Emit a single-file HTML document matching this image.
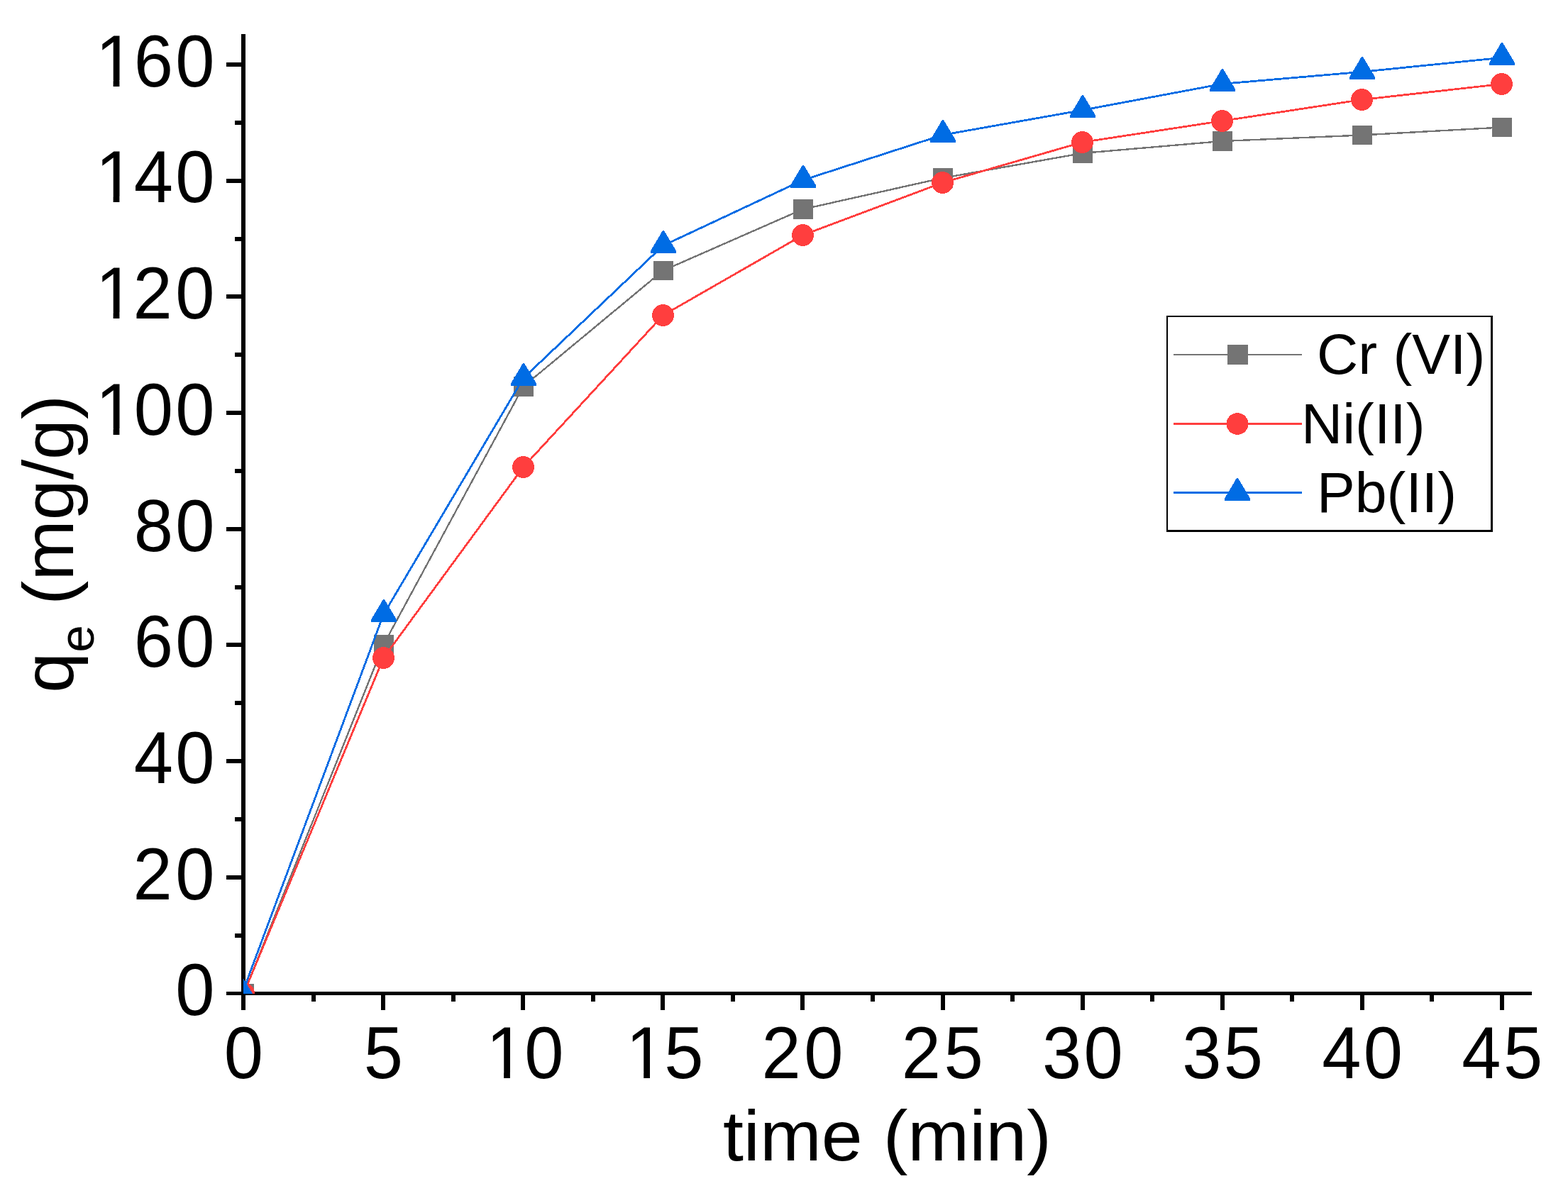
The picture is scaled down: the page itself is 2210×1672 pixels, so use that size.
<!DOCTYPE html>
<html lang="en"><head><meta charset="utf-8"><title>qe vs time</title>
<style>html,body{margin:0;padding:0;background:#fff;}body{width:2210px;height:1672px;overflow:hidden;}svg{display:block;}text{font-family:"Liberation Sans", sans-serif;fill:#000;}</style>
</head><body>
<svg width="2210" height="1672" viewBox="0 0 2210 1672">
<rect x="0" y="0" width="2210" height="1672" fill="#fff"/>
<defs><clipPath id="plot"><rect x="343" y="40" width="1830" height="1361"/></clipPath></defs>
<g fill="#000" shape-rendering="crispEdges">
<rect x="340" y="48" width="6" height="1376"/>
<rect x="319" y="1398" width="1840" height="5"/>
<rect x="331" y="1315.7" width="10" height="6"/>
<rect x="319" y="1233.8" width="22" height="6"/>
<rect x="331" y="1152.0" width="10" height="6"/>
<rect x="319" y="1070.1" width="22" height="6"/>
<rect x="331" y="988.2" width="10" height="6"/>
<rect x="319" y="906.4" width="22" height="6"/>
<rect x="331" y="824.6" width="10" height="6"/>
<rect x="319" y="742.7" width="22" height="6"/>
<rect x="331" y="660.9" width="10" height="6"/>
<rect x="319" y="579.0" width="22" height="6"/>
<rect x="331" y="497.2" width="10" height="6"/>
<rect x="319" y="415.3" width="22" height="6"/>
<rect x="331" y="333.5" width="10" height="6"/>
<rect x="319" y="251.6" width="22" height="6"/>
<rect x="331" y="169.8" width="10" height="6"/>
<rect x="319" y="87.9" width="22" height="6"/>
<rect x="438.6" y="1400" width="6" height="12"/>
<rect x="537.1" y="1400" width="6" height="24"/>
<rect x="635.7" y="1400" width="6" height="12"/>
<rect x="734.2" y="1400" width="6" height="24"/>
<rect x="832.8" y="1400" width="6" height="12"/>
<rect x="931.3" y="1400" width="6" height="24"/>
<rect x="1029.9" y="1400" width="6" height="12"/>
<rect x="1128.4" y="1400" width="6" height="24"/>
<rect x="1227.0" y="1400" width="6" height="12"/>
<rect x="1325.6" y="1400" width="6" height="24"/>
<rect x="1424.1" y="1400" width="6" height="12"/>
<rect x="1522.7" y="1400" width="6" height="24"/>
<rect x="1621.2" y="1400" width="6" height="12"/>
<rect x="1719.8" y="1400" width="6" height="24"/>
<rect x="1818.3" y="1400" width="6" height="12"/>
<rect x="1916.9" y="1400" width="6" height="24"/>
<rect x="2015.4" y="1400" width="6" height="12"/>
<rect x="2114.0" y="1400" width="6" height="24"/>
</g>
<g font-size="104.6" transform="scale(0.95,1)">
<text x="260.3" y="1431.4">0</text>
<text x="197.4 260.3" y="1267.7">20</text>
<text x="198.7 260.3" y="1104.0">40</text>
<text x="198.7 260.3" y="940.3">60</text>
<text x="198.7 260.3" y="776.6">80</text>
<text x="141.8 198.7 260.3" y="612.9">100</text>
<text x="141.8 197.4 260.3" y="449.2">120</text>
<text x="141.8 198.7 260.3" y="285.5">140</text>
<text x="141.8 198.7 260.3" y="121.8">160</text>
<text x="332.3" y="1520">0</text>
<text x="539.8" y="1520">5</text>
<text x="721.2 778.1" y="1520">10</text>
<text x="928.7 985.6" y="1520">15</text>
<text x="1130.1 1193.0" y="1520">20</text>
<text x="1337.6 1400.5" y="1520">25</text>
<text x="1546.4 1608.0" y="1520">30</text>
<text x="1753.9 1815.5" y="1520">35</text>
<text x="1961.3 2023.0" y="1520">40</text>
<text x="2168.8 2230.5" y="1520">45</text>
</g>
<g fill="#fff"><rect x="141.2" y="604.3" width="18.4" height="9.8"/><rect x="168.4" y="604.3" width="17.6" height="9.8"/><rect x="141.2" y="440.6" width="18.4" height="9.8"/><rect x="168.4" y="440.6" width="17.6" height="9.8"/><rect x="141.2" y="276.9" width="18.4" height="9.8"/><rect x="168.4" y="276.9" width="17.6" height="9.8"/><rect x="141.2" y="113.2" width="18.4" height="9.8"/><rect x="168.4" y="113.2" width="17.6" height="9.8"/><rect x="691.7" y="1511.4" width="18.4" height="9.8"/><rect x="718.9" y="1511.4" width="17.6" height="9.8"/><rect x="888.8" y="1511.4" width="18.4" height="9.8"/><rect x="916.0" y="1511.4" width="17.6" height="9.8"/></g>
<text transform="translate(1250.4,1636) scale(1.042,1)" font-size="100" text-anchor="middle">time (min)</text>
<text transform="translate(103,766.8) rotate(-90) scale(1.024,1)" font-size="100" text-anchor="middle">q<tspan font-size="68" dy="29">e</tspan><tspan dy="-29"> (mg/g)</tspan></text>
<g clip-path="url(#plot)" shape-rendering="crispEdges">
<g fill="#747474" stroke="none">
<polyline points="343.5,1401 540.5,909 737.5,545 934.5,381.5 1131.5,295 1328.5,251 1525.5,216 1722.5,199 1919.5,190.5 2116.5,179.5" fill="none" stroke="#747474" stroke-width="2.4" stroke-linejoin="round"/>
<rect x="330" y="1387" width="28" height="28"/>
<rect x="527" y="895" width="28" height="28"/>
<rect x="724" y="531" width="28" height="28"/>
<rect x="921" y="368" width="28" height="27"/>
<rect x="1118" y="281" width="28" height="28"/>
<rect x="1315" y="237" width="28" height="28"/>
<rect x="1512" y="202" width="28" height="28"/>
<rect x="1709" y="185" width="28" height="28"/>
<rect x="1906" y="177" width="28" height="27"/>
<rect x="2103" y="166" width="28" height="27"/>
</g>
<g fill="#FF3E3E" stroke="none">
<polyline points="343.5,1400.5 540.5,927.5 737.5,658.5 934.5,444.5 1131.5,331.5 1328.5,257.5 1525.5,200.5 1722.5,170.5 1919.5,140.5 2116.5,118.5" fill="none" stroke="#FF3E3E" stroke-width="2.8" stroke-linejoin="round"/>
<circle cx="343.5" cy="1400.5" r="15.5"/>
<circle cx="540.5" cy="927.5" r="15.5"/>
<circle cx="737.5" cy="658.5" r="15.5"/>
<circle cx="934.5" cy="444.5" r="15.5"/>
<circle cx="1131.5" cy="331.5" r="15.5"/>
<circle cx="1328.5" cy="257.5" r="15.5"/>
<circle cx="1525.5" cy="200.5" r="15.5"/>
<circle cx="1722.5" cy="170.5" r="15.5"/>
<circle cx="1919.5" cy="140.5" r="15.5"/>
<circle cx="2116.5" cy="118.5" r="15.5"/>
</g>
<g fill="#006CE4" stroke="none">
<polyline points="341.5,1400.3 540.5,866.3 737.5,533.3 934.5,346.3 1131.5,254 1328.5,190.3 1525.5,155.3 1722.5,118.3 1919.5,101.3 2116.5,81.3" fill="none" stroke="#006CE4" stroke-width="2.8" stroke-linejoin="round"/>
<polygon points="341,1379 343,1379 360,1407.6 360,1411 324,1411 324,1407.6"/>
<polygon points="540,845 542,845 559,873.6 559,877 523,877 523,873.6"/>
<polygon points="737,512 739,512 756,540.6 756,544 720,544 720,540.6"/>
<polygon points="934,325 936,325 953,353.6 953,357 917,357 917,353.6"/>
<polygon points="1131,232.7 1133,232.7 1150,261.3 1150,264.7 1114,264.7 1114,261.3"/>
<polygon points="1328,169 1330,169 1347,197.6 1347,201 1311,201 1311,197.6"/>
<polygon points="1525,134 1527,134 1544,162.6 1544,166 1508,166 1508,162.6"/>
<polygon points="1722,97 1724,97 1741,125.6 1741,129 1705,129 1705,125.6"/>
<polygon points="1919,80 1921,80 1938,108.6 1938,112 1902,112 1902,108.6"/>
<polygon points="2116,60 2118,60 2135,88.6 2135,92 2099,92 2099,88.6"/>
</g>
</g>
<g fill="#000" shape-rendering="crispEdges"><rect x="1644" y="445" width="460" height="2"/><rect x="1644" y="445" width="2" height="305"/><rect x="2101" y="445" width="3" height="305"/><rect x="1644" y="747" width="460" height="3"/></g>
<g shape-rendering="crispEdges">
<g fill="#747474"><rect x="1654" y="499" width="181" height="2"/><rect x="1730" y="486" width="29" height="28"/></g>
<g fill="#FF3E3E"><rect x="1654" y="596" width="181" height="3"/><circle cx="1744" cy="597.5" r="15.4"/></g>
<g fill="#006CE4"><rect x="1654" y="693" width="181" height="3"/><polygon points="1743,674 1745,674 1762,702.6 1762,706 1726,706 1726,702.6"/></g>
</g>
<g font-size="80.6">
<text x="1856" y="527">Cr (VI)</text>
<text x="1834" y="625">Ni(II)</text>
<text x="1856" y="722">Pb(II)</text>
</g>
</svg>
</body></html>
